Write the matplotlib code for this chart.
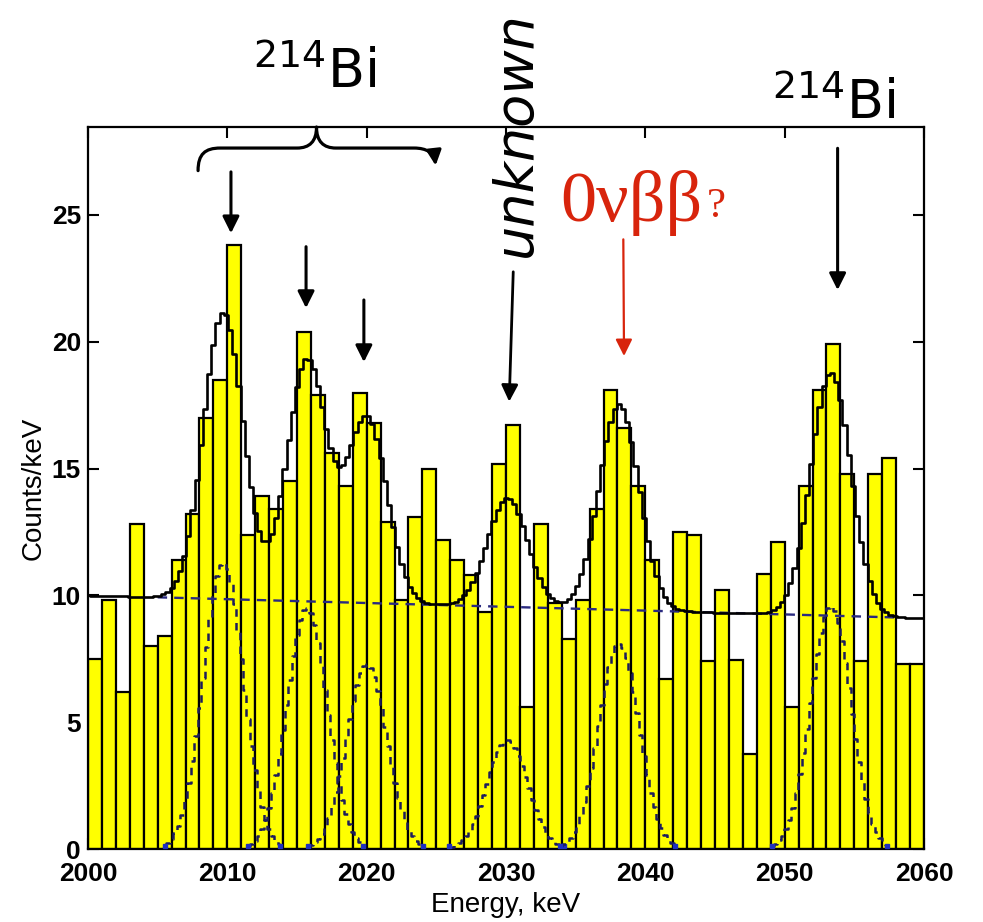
import matplotlib
matplotlib.use('Agg')
import matplotlib.pyplot as plt
import numpy as np
from matplotlib.path import Path
from matplotlib.patches import FancyArrowPatch

plt.rcParams['font.family'] = ['Liberation Sans', 'DejaVu Sans']
plt.rcParams['mathtext.default'] = 'regular'
plt.rcParams['mathtext.fontset'] = 'dejavusans'

# histogram: 1 keV bins from 2000 to 2060 keV
bin_left = np.arange(2000, 2060)
counts = [7.5, 9.8, 6.2, 12.8, 8.0, 8.4, 11.4, 13.2, 17.0, 18.5,
          23.8, 12.4, 13.9, 13.4, 14.5, 20.4, 17.9, 15.6, 14.3, 18.0,
          16.8, 12.9, 9.8, 13.1, 15.0, 12.2, 11.4, 10.8, 9.35, 15.2,
          16.7, 5.6, 12.8, 9.7, 8.3, 9.8, 13.4, 18.1, 16.6, 14.3,
          11.4, 6.7, 12.5, 12.4, 7.4, 10.2, 7.45, 3.75, 10.85, 12.1,
          5.6, 14.3, 18.1, 19.9, 14.8, 7.4, 14.8, 15.4, 7.3, 7.3]

# fit: linear background + gaussian lines
peak_centers = [2009.7, 2015.7, 2020.0, 2030.1, 2038.1, 2053.3]
peak_amps = [11.3, 9.5, 7.3, 4.3, 8.1, 9.6]
peak_sigma = 1.43
bg_left, bg_right = 10.0, 9.1

red = '#d8240c'
dash_col = '#1c1c5c'


def background(x):
    return bg_left + (bg_right - bg_left) * (x - 2000) / 60.0


def gauss(x, c, a):
    return a * np.exp(-(x - c) ** 2 / (2 * peak_sigma ** 2))


fig = plt.figure(figsize=(9.83, 9.22), dpi=100)
ax = fig.add_axes([88 / 983, 1 - 849 / 922, 836 / 983, 722 / 922])

ax.bar(bin_left, counts, width=1.0, align='edge', color='#ffff00',
       edgecolor='black', linewidth=1.6, zorder=2)

# component gaussians (dashed)
for c, a in zip(peak_centers, peak_amps):
    xg = np.arange(c - 4.2, c + 4.21, 0.25)
    ax.plot(xg, gauss(xg, c, a), color=dash_col, lw=1.8, ls=(0, (3, 2.5)),
            drawstyle='steps-mid', zorder=3)
    ax.plot([xg[0], xg[-1]], [0.1, 0.1], 's', color='#2030c0', ms=3, zorder=3)

# background (dashed)
xb = np.arange(2005, 2058.5, 0.5)
ax.plot(xb, background(xb), color='#2a2a80', lw=1.7, ls=(0, (4, 3)), zorder=3)

# total fit
xf = np.arange(2000, 2060.01, 0.3)
yf = background(xf)
for c, a in zip(peak_centers, peak_amps):
    yf = yf + gauss(xf, c, a)
ax.plot(xf, yf, color='black', lw=1.9, drawstyle='steps-mid', zorder=4)

ax.set_xlim(2000, 2060)
ax.set_ylim(0, 28.47)
ax.set_xticks(range(2000, 2061, 10))
ax.set_yticks(range(0, 26, 5))
ax.tick_params(direction='in', length=8, width=1.5, top=True, right=True,
               labelsize=19)
ax.tick_params(axis='x', pad=9)
ax.tick_params(axis='y', pad=5)
for lab in ax.get_xticklabels() + ax.get_yticklabels():
    lab.set_fontweight('bold')
for s in ax.spines.values():
    s.set_linewidth(1.6)

ax.set_xlabel('Energy, keV', fontsize=20)
ax.set_ylabel('Counts/keV', fontsize=20)
ax.xaxis.set_label_coords(0.5, -0.06)
ax.yaxis.set_label_coords(-0.05, 0.5)


def arrow(x0, y0, x1, y1, color='black', lw=2.2):
    ax.annotate('', xy=(x1, y1), xytext=(x0, y0), annotation_clip=False,
                arrowprops=dict(arrowstyle='-|>,head_length=0.5,head_width=0.25',
                                mutation_scale=20, color=color, lw=lw,
                                shrinkA=0, shrinkB=0), zorder=6)


# labels and arrows
ax.text(2016.3, 30.0, r'$^{214}$Bi', fontsize=39, family='DejaVu Sans',
        ha='center', va='baseline', clip_on=False)
ax.text(2053.55, 28.8, r'$^{214}$Bi', fontsize=39, family='DejaVu Sans',
        ha='center', va='baseline', clip_on=False)

arrow(2010.26, 26.7, 2010.26, 24.28)
arrow(2015.65, 23.75, 2015.65, 21.33)
arrow(2019.8, 21.65, 2019.8, 19.2)
arrow(2053.8, 27.63, 2053.8, 22.04)
arrow(2030.52, 22.76, 2030.23, 17.64, lw=2.0)
arrow(2038.42, 24.04, 2038.47, 19.44, color=red, lw=1.6)

ax.text(2031.8, 28.19, 'unknown', fontsize=39, family='DejaVu Sans',
        style='italic', rotation=90, rotation_mode='anchor',
        ha='center', va='baseline', clip_on=False, zorder=7)

ax.text(2033.9, 24.75, '0\u03bd\u03b2\u03b2', fontsize=52, color=red,
        family='Liberation Serif', ha='left', va='baseline')
ax.text(2044.4, 24.93, '?', fontsize=31, color=red,
        family='Liberation Serif', ha='left', va='baseline')

# curly brace over the 214Bi lines, ending in an arrow
verts = [(2007.9, 26.75),
         (2007.9, 27.4), (2008.4, 27.64), (2009.5, 27.64),
         (2015.0, 27.64),
         (2015.9, 27.64), (2016.4, 27.9), (2016.4, 28.47),
         (2016.4, 27.9), (2016.9, 27.64), (2017.8, 27.64),
         (2023.4, 27.64),
         (2024.3, 27.64), (2024.85, 27.45), (2024.95, 26.95)]
codes = [Path.MOVETO,
         Path.CURVE4, Path.CURVE4, Path.CURVE4,
         Path.LINETO,
         Path.CURVE4, Path.CURVE4, Path.CURVE4,
         Path.CURVE4, Path.CURVE4, Path.CURVE4,
         Path.LINETO,
         Path.CURVE4, Path.CURVE4, Path.CURVE4]
brace = FancyArrowPatch(path=Path(verts, codes),
                        arrowstyle='-|>,head_length=0.45,head_width=0.22',
                        mutation_scale=20, color='black', lw=2.3,
                        transform=ax.transData, clip_on=False, zorder=6)
ax.add_patch(brace)

fig.savefig('out.png', dpi=100)
